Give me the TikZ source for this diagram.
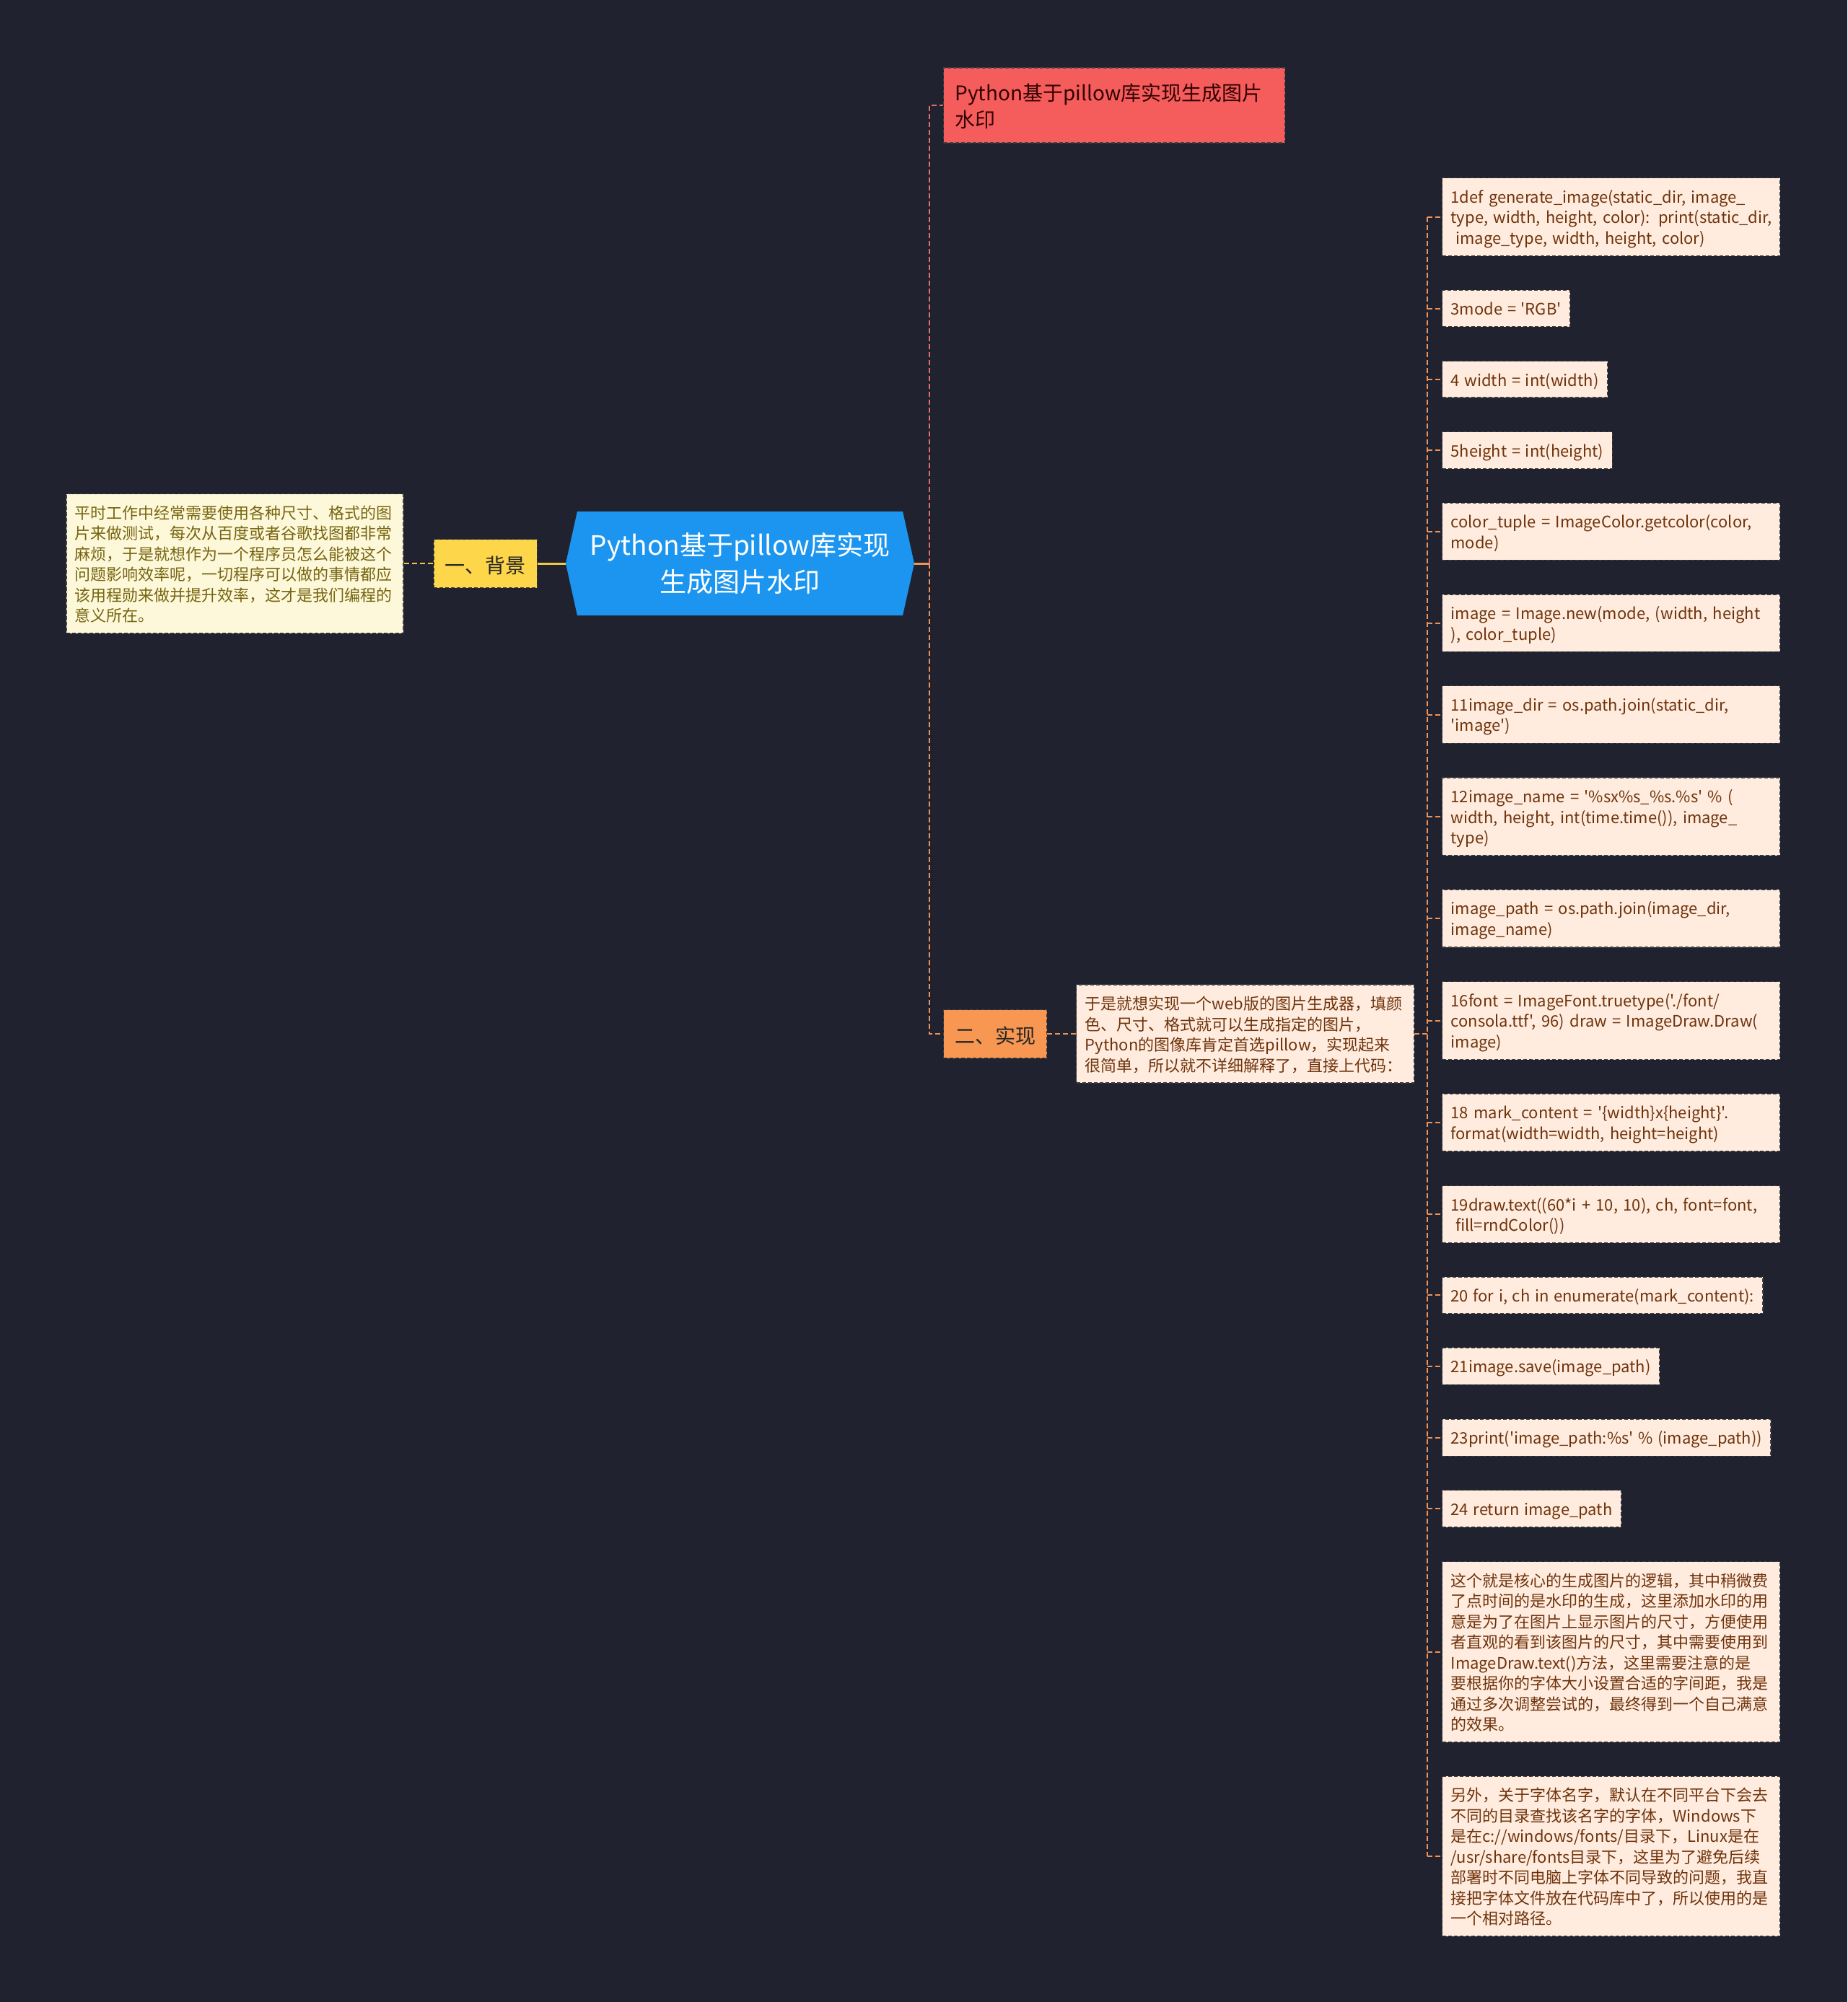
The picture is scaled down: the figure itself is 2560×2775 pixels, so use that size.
\documentclass[tikz,border=0pt]{standalone}
\usepackage{fontspec}
\newfontfamily\cjk{Noto Sans CJK SC}[WordSpace=1.35]
\usetikzlibrary{positioning, shapes.symbols}

\definecolor{bgdark}{HTML}{20232F}
\definecolor{rootblue}{HTML}{1B95EF}
\definecolor{titlered}{HTML}{F55D5D}
\definecolor{bgyellow}{HTML}{FDD64A}
\definecolor{implorange}{HTML}{F79752}
\definecolor{notecream}{HTML}{FEF8DA}
\definecolor{notepeach}{HTML}{FFECDF}
\definecolor{textolive}{HTML}{76650F}
\definecolor{textbrown}{HTML}{6F330B}
\definecolor{lineyellow}{HTML}{EEC843}
\definecolor{linered}{HTML}{E46A68}
\definecolor{lineorange}{HTML}{EE9358}

\begin{document}
\begin{tikzpicture}[
x=1pt, y=-1pt,
box/.style={rectangle, draw=black!75, line width=1.2pt, dash pattern=on 5pt off 3pt, align=left, font=\cjk\fontsize{22}{28.5}\selectfont, inner xsep=12pt, inner ysep=11pt, execute at begin node={\rule{0pt}{23.5pt}}, execute at end node={\rule[-5pt]{0pt}{5pt}}},
bgnotebox/.style={box, fill=notecream, text=textolive, text width=443pt},
codebox/.style={box, fill=notepeach, text=textbrown},
codewide/.style={codebox, text width=444pt},
branch/.style={rectangle, draw=black!75, line width=1.2pt, dash pattern=on 5pt off 3pt, font=\cjk\fontsize{28}{37}\selectfont, inner xsep=15.5pt, inner ysep=14pt, execute at begin node={\rule{0pt}{33pt}}, execute at end node={\rule[-6pt]{0pt}{6pt}}},
topic/.style={branch, fill=titlered, text=black!80!red, text width=441pt, align=left, inner xsep=16pt, inner ysep=13pt, execute at end node={\rule[-8pt]{0pt}{8pt}}},
rootnode/.style={signal, signal to=west and east, signal pointer angle=155, fill=rootblue, text=white, align=center, font=\cjk\fontsize{37}{51}\selectfont, minimum width=483pt, minimum height=144pt, inner sep=0pt},
link/.style={line width=2pt, dash pattern=on 7pt off 4pt}
]

\fill[bgdark] (0,0) rectangle (2560,2775);

\node[rootnode] (root) at (1025.5,781) {Python基于pillow库实现\\生成图片水印};
\node[branch, fill=bgyellow, text=black!85, left=39pt of root] (bg) {一、背景};
\node[bgnotebox, left=41pt of bg] (bgnote) {平时工作中经常需要使用各种尺寸、格式的图\\片来做测试，每次从百度或者谷歌找图都非常\\麻烦，于是就想作为一个程序员怎么能被这个\\问题影响效率呢，一切程序可以做的事情都应\\该用程勋来做并提升效率，这才是我们编程的\\意义所在。};
\node[topic, anchor=west] (title) at (1307,146) {Python基于pillow库实现生成图片\\水印};
\node[branch, fill=implorange, text=black!85, anchor=west] (impl) at (1307,1433) {二、实现};
\node[codewide, right=40pt of impl] (implnote) {于是就想实现一个web版的图片生成器，填颜\\色、尺寸、格式就可以生成指定的图片，\\Python的图像库肯定首选pillow，实现起来\\很简单，所以就不详细解释了，直接上代码：};

% code lines
\node[codewide, anchor=north west] (c1) at (1998,246) {1def generate\_image(static\_dir, image\_\\\mbox{type, width, height, color): print(static\_dir,}\\\hspace*{0.3em}image\_type, width, height, color)};
\node[codebox, below=46.5pt of c1.south west, anchor=north west] (c2) {3mode = 'RGB'};
\node[codebox, below=46.5pt of c2.south west, anchor=north west] (c3) {4 width = int(width)};
\node[codebox, below=46.5pt of c3.south west, anchor=north west] (c4) {5height = int(height)};
\node[codewide, below=46.5pt of c4.south west, anchor=north west] (c5) {color\_tuple = ImageColor.getcolor(color,\\mode)};
\node[codewide, below=46.5pt of c5.south west, anchor=north west] (c6) {image = Image.new(mode, (width, height\\), color\_tuple)};
\node[codewide, below=46.5pt of c6.south west, anchor=north west] (c7) {11image\_dir = os.path.join(static\_dir,\\'image')};
\node[codewide, below=46.5pt of c7.south west, anchor=north west] (c8) {12image\_name = '\%sx\%s\_\%s.\%s' \% (\\width, height, int(time.time()), image\_\\type)};
\node[codewide, below=46.5pt of c8.south west, anchor=north west] (c9) {image\_path = os.path.join(image\_dir,\\image\_name)};
\node[codewide, below=46.5pt of c9.south west, anchor=north west] (c10) {16font = ImageFont.truetype('./font/\\consola.ttf', 96) draw = ImageDraw.Draw(\\image)};
\node[codewide, below=46.5pt of c10.south west, anchor=north west] (c11) {18 mark\_content = '\{width\}x\{height\}'.\\format(width=width, height=height)};
\node[codewide, below=46.5pt of c11.south west, anchor=north west] (c12) {19draw.text((60*i + 10, 10), ch, font=font,\\\hspace*{0.3em}fill=rndColor())};
\node[codebox, below=46.5pt of c12.south west, anchor=north west] (c13) {20 for i, ch in enumerate(mark\_content):};
\node[codebox, below=46.5pt of c13.south west, anchor=north west] (c14) {21image.save(image\_path)};
\node[codebox, below=46.5pt of c14.south west, anchor=north west] (c15) {23print('image\_path:\%s' \% (image\_path))};
\node[codebox, below=46.5pt of c15.south west, anchor=north west] (c16) {24 return image\_path};
\node[codewide, below=46.5pt of c16.south west, anchor=north west] (c17) {这个就是核心的生成图片的逻辑，其中稍微费\\了点时间的是水印的生成，这里添加水印的用\\意是为了在图片上显示图片的尺寸，方便使用\\者直观的看到该图片的尺寸，其中需要使用到\\ImageDraw.text()方法，这里需要注意的是\\要根据你的字体大小设置合适的字间距，我是\\通过多次调整尝试的，最终得到一个自己满意\\的效果。};
\node[codewide, below=46.5pt of c17.south west, anchor=north west] (c18) {另外，关于字体名字，默认在不同平台下会去\\不同的目录查找该名字的字体，Windows下\\是在c://windows/fonts/目录下，Linux是在\\/usr/share/fonts目录下，这里为了避免后续\\部署时不同电脑上字体不同导致的问题，我直\\接把字体文件放在代码库中了，所以使用的是\\一个相对路径。};

\coordinate (fork) at (1288,781);
\coordinate (hub) at (1978,1433);

\draw[link, lineyellow] (bgnote.east) -- (bg.west);
\draw[lineyellow, line width=3pt] (bg.east) -- (root.west);
\draw[lineorange, line width=3pt] (root.east) -- (fork);
\draw[link, linered] (fork) |- (title.west);
\draw[link, lineorange] (fork) |- (impl.west);
\draw[link, lineorange] (impl.east) -- (implnote.west);
\draw[link, lineorange] (implnote.east) -- (hub);
\draw[link, lineorange] (hub |- c1.west) -- (hub |- c18.west);
\foreach \i in {1,...,18}
  \draw[link, lineorange] (hub |- c\i.west) -- (c\i.west);

\end{tikzpicture}
\end{document}
